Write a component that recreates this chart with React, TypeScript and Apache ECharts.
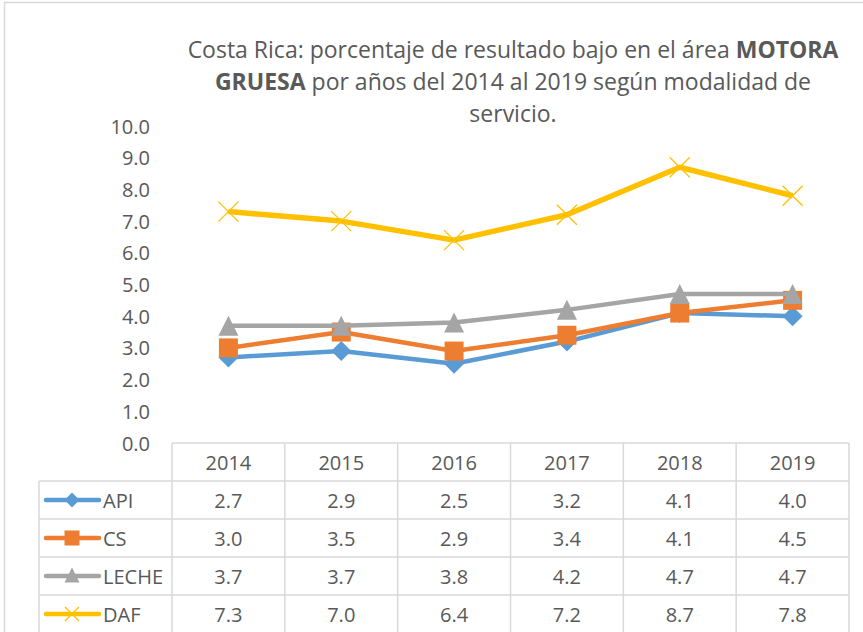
import React, { useEffect, useRef } from "react";
import * as echarts from "echarts";

const categories = ["2014", "2015", "2016", "2017", "2018", "2019"];
const seriesNames = ["API", "CS", "LECHE", "DAF"];
const apiValues = [2.7, 2.9, 2.5, 3.2, 4.1, 4.0];
const csValues = [3.0, 3.5, 2.9, 3.4, 4.1, 4.5];
const lecheValues = [3.7, 3.7, 3.8, 4.2, 4.7, 4.7];
const dafValues = [7.3, 7.0, 6.4, 7.2, 8.7, 7.8];
const yMin = 0;
const yMax = 10;
const yInterval = 1;

const colors = ["#5B9BD5", "#ED7D31", "#A5A5A5", "#FFC000"];
const symbols = ["diamond", "rect", "triangle", "path://M0,0L10,10M10,0L0,10"];
const allValues = [apiValues, csValues, lecheValues, dafValues];

const W = 863;
const H = 632;
const FONT = "'Open Sans', sans-serif";
const TXT = "#595959";
const GRIDC = "#D9D9D9";
const plotLeft = 172;
const plotRight = 849;
const plotTop = 126;
const plotBottom = 443;
const rowH = 38;
const tableLeft = 39;
const FS = 20;

export default function App() {
  const ref = useRef<HTMLDivElement>(null);
  useEffect(() => {
    document.body.style.margin = "0";
    if (!ref.current) return;
    const chart = echarts.init(ref.current, null, { renderer: "svg" });
    const colW = (plotRight - plotLeft) / categories.length;
    const graphics: any[] = [];
    graphics.push({
      type: "rect",
      shape: { x: 4.5, y: 2.5, width: 900, height: 700 },
      style: { fill: "none", stroke: GRIDC, lineWidth: 1.5 },
      silent: true,
    });
    const tableBottom = H + 10;
    graphics.push({
      type: "line",
      shape: { x1: plotLeft, y1: plotBottom, x2: plotRight, y2: plotBottom },
      style: { stroke: GRIDC, lineWidth: 1.5 },
    });
    for (let r = 1; r <= seriesNames.length; r++) {
      const y = plotBottom + r * rowH;
      graphics.push({
        type: "line",
        shape: { x1: tableLeft, y1: y, x2: plotRight, y2: y },
        style: { stroke: GRIDC, lineWidth: 1.5 },
      });
    }
    graphics.push({
      type: "line",
      shape: { x1: tableLeft, y1: plotBottom + rowH, x2: tableLeft, y2: tableBottom },
      style: { stroke: GRIDC, lineWidth: 1.5 },
    });
    for (let c = 0; c <= categories.length; c++) {
      const x = plotLeft + c * colW;
      graphics.push({
        type: "line",
        shape: { x1: x, y1: plotBottom, x2: x, y2: tableBottom },
        style: { stroke: GRIDC, lineWidth: 1.5 },
      });
    }
    categories.forEach((cat, c) => {
      graphics.push({
        type: "text",
        style: {
          text: cat,
          x: plotLeft + (c + 0.5) * colW,
          y: plotBottom + rowH / 2,
          align: "center",
          verticalAlign: "middle",
          fontSize: FS,
          fontFamily: FONT,
          fill: TXT,
        },
      });
    });
    seriesNames.forEach((name, r) => {
      const cy = plotBottom + (r + 1.5) * rowH;
      const col = colors[r];
      graphics.push({
        type: "line",
        shape: { x1: 46, y1: cy, x2: 99, y2: cy },
        style: { stroke: col, lineWidth: 4.5, lineCap: "round" },
      });
      const mx = 72;
      if (r === 0) {
        graphics.push({
          type: "polygon",
          shape: { points: [[mx, cy - 7.5], [mx + 7.5, cy], [mx, cy + 7.5], [mx - 7.5, cy]] },
          style: { fill: col },
        });
      } else if (r === 1) {
        graphics.push({
          type: "rect",
          shape: { x: mx - 7.5, y: cy - 7.5, width: 15, height: 15 },
          style: { fill: col },
        });
      } else if (r === 2) {
        graphics.push({
          type: "polygon",
          shape: { points: [[mx, cy - 8.5], [mx + 7.5, cy + 6.5], [mx - 7.5, cy + 6.5]] },
          style: { fill: col },
        });
      } else {
        graphics.push({
          type: "line",
          shape: { x1: mx - 7, y1: cy - 7, x2: mx + 7, y2: cy + 7 },
          style: { stroke: col, lineWidth: 1.3 },
        });
        graphics.push({
          type: "line",
          shape: { x1: mx + 7, y1: cy - 7, x2: mx - 7, y2: cy + 7 },
          style: { stroke: col, lineWidth: 1.3 },
        });
      }
      graphics.push({
        type: "text",
        style: {
          text: name,
          x: 103,
          y: cy,
          align: "left",
          verticalAlign: "middle",
          fontSize: FS,
          fontFamily: FONT,
          fill: TXT,
        },
      });
      allValues[r].forEach((v, c) => {
        graphics.push({
          type: "text",
          style: {
            text: v.toFixed(1),
            x: plotLeft + (c + 0.5) * colW,
            y: cy,
            align: "center",
            verticalAlign: "middle",
            fontSize: FS,
            fontFamily: FONT,
            fill: TXT,
          },
        });
      });
    });

    chart.setOption({
      animation: false,
      backgroundColor: "#FFFFFF",
      title: {
        text:
          "Costa Rica: porcentaje de resultado bajo en el área {b|MOTORA}\n{b|GRUESA} por años del 2014 al 2019 según modalidad de\nservicio.",
        left: 508,
        top: 28,
        textAlign: "center",
        textStyle: {
          fontFamily: FONT,
          fontSize: 23,
          fontWeight: "normal",
          color: TXT,
          lineHeight: 32,
          rich: {
            b: { fontFamily: FONT, fontSize: 23, fontWeight: "bold", color: TXT, lineHeight: 32 },
          },
        },
      },
      grid: {
        left: plotLeft,
        right: W - plotRight,
        top: plotTop,
        bottom: H - plotBottom,
        containLabel: false,
      },
      xAxis: {
        type: "category",
        data: categories,
        boundaryGap: true,
        axisLine: { show: false },
        axisTick: { show: false },
        axisLabel: { show: false },
        splitLine: { show: false },
      },
      yAxis: {
        type: "value",
        min: yMin,
        max: yMax,
        interval: yInterval,
        axisLine: { show: false },
        axisTick: { show: false },
        splitLine: { show: false },
        axisLabel: {
          margin: 22,
          fontFamily: FONT,
          fontSize: FS,
          color: TXT,
          formatter: (v: number) => v.toFixed(1),
        },
      },
      series: seriesNames.map((name, i) => ({
        name,
        type: "line",
        data: allValues[i],
        symbol: symbols[i],
        symbolSize: i === 1 ? 19 : 20,
        lineStyle: { color: colors[i], width: i === 3 ? 5.5 : 4.5 },
        itemStyle:
          i === 3
            ? { color: colors[i], borderColor: colors[i], borderWidth: 1.3 }
            : { color: colors[i], borderWidth: 0 },
        z: 2 + i,
      })),
      graphic: graphics,
    });
    return () => chart.dispose();
  }, []);
  return <div ref={ref} style={{ width: W, height: H }} />;
}
